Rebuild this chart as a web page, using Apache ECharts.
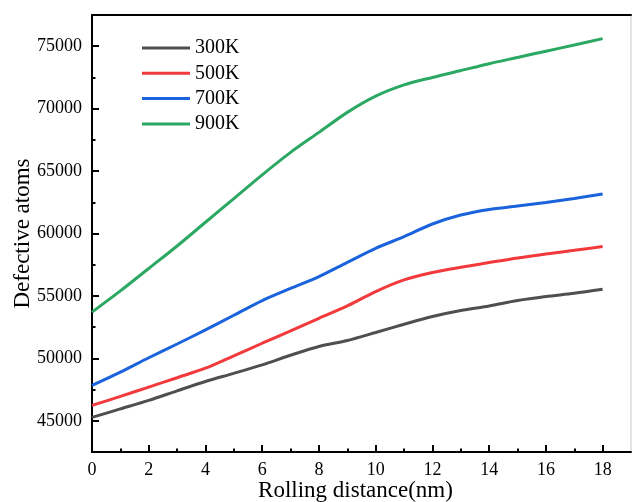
<!DOCTYPE html>
<html>
<head>
<meta charset="utf-8">
<script src="https://cdn.jsdelivr.net/npm/echarts@6/dist/echarts.min.js"></script>
<style>html,body{margin:0;padding:0;background:#fff;}#c{width:632px;height:502px;}</style>
</head>
<body>
<div id="c"></div>
<script>
var distance = [0,1,2,3,4,5,6,7,8,9,10,11,12,13,14,15,16,17,18];
var s300K = [45270,45950,46630,47400,48150,48800,49480,50250,50950,51430,52070,52730,53350,53830,54200,54630,54950,55210,55530];
var s500K = [46230,46950,47700,48450,49210,50200,51210,52200,53210,54200,55350,56280,56870,57290,57670,58040,58360,58650,58950];
var s700K = [47830,48900,50050,51150,52280,53450,54630,55600,56550,57690,58810,59750,60760,61480,61930,62200,62490,62810,63160];
var s900K = [53700,55400,57200,59000,60900,62800,64700,66500,68100,69700,71000,71900,72500,73050,73600,74100,74600,75100,75610];
var seriesNames = ['300K','500K','700K','900K'];
var xMajorTicks = [0,2,4,6,8,10,12,14,16,18];
var xMinorTicks = [1,3,5,7,9,11,13,15,17];
var yMajorTicks = [45000,50000,55000,60000,65000,70000,75000];
var yMinorTicks = [42500,47500,52500,57500,62500,67500,72500,77500];

var colors = ['#4f4f4f','#f2393c','#1a63dc','#2ba862'];
var font = "'Liberation Serif','Times New Roman',serif";
var allSeries = [s300K, s500K, s700K, s900K];

function pairs(arr){ return distance.map(function(d,i){ return [d, arr[i]]; }); }

var chart = echarts.init(document.getElementById('c'), null, {renderer:'canvas'});
chart.setOption({
  animation: false,
  backgroundColor: '#fff',
  grid: {left: 92, right: 1, top: 15, bottom: 50, show: true, borderColor: '#c8c8c8', borderWidth: 1,
         containLabel: false, outerBoundsMode: 'none'},
  legend: {
    orient: 'vertical', left: 137, top: 33, padding: 5,
    icon: 'rect', itemWidth: 48, itemHeight: 3, itemGap: 5.3,
    data: seriesNames,
    textStyle: {fontFamily: font, fontSize: 20, color: '#000'}
  },
  xAxis: [{
    type: 'value', min: 0, max: 19, position: 'bottom',
    name: 'Rolling distance(nm)', nameLocation: 'middle', nameGap: 27, nameMoveOverlap: false,
    nameTextStyle: {fontFamily: font, fontSize: 23, color: '#000', padding: [0, 12, 0, 0]},
    axisLine: {show: true, onZero: false, lineStyle: {color: '#000', width: 2}},
    axisTick: {show: true, inside: true, length: 7, customValues: xMajorTicks, lineStyle: {color: '#000', width: 2}},
    axisLabel: {show: true, customValues: xMajorTicks, margin: 9, fontFamily: font, fontSize: 18, color: '#000'},
    splitLine: {show: false}
  },{
    type: 'value', min: 0, max: 19, position: 'bottom',
    axisLine: {show: false},
    axisTick: {show: true, inside: true, length: 3.5, customValues: xMinorTicks, lineStyle: {color: '#000', width: 2}},
    axisLabel: {show: false},
    splitLine: {show: false}
  },{
    type: 'value', min: 0, max: 19, position: 'top',
    axisLine: {show: true, onZero: false, lineStyle: {color: '#000', width: 2}},
    axisTick: {show: false}, axisLabel: {show: false}, splitLine: {show: false}
  }],
  yAxis: [{
    type: 'value', min: 42500, max: 77500, position: 'left',
    name: 'Defective atoms', nameLocation: 'middle', nameGap: 58, nameMoveOverlap: false,
    nameTextStyle: {fontFamily: font, fontSize: 23, color: '#000'},
    axisLine: {show: true, onZero: false, lineStyle: {color: '#000', width: 2}},
    axisTick: {show: true, inside: true, length: 7, customValues: yMajorTicks, lineStyle: {color: '#000', width: 2}},
    axisLabel: {show: true, customValues: yMajorTicks, margin: 10, fontFamily: font, fontSize: 18, color: '#000',
                formatter: function(v){ return String(v); }},
    splitLine: {show: false}
  },{
    type: 'value', min: 42500, max: 77500, position: 'left',
    axisLine: {show: false},
    axisTick: {show: true, inside: true, length: 3.5, customValues: yMinorTicks, lineStyle: {color: '#000', width: 2}},
    axisLabel: {show: false},
    splitLine: {show: false}
  }],
  series: seriesNames.map(function(n, i){
    return {
      name: n, type: 'line', xAxisIndex: 0, yAxisIndex: 0,
      data: pairs(allSeries[i]), smooth: 0.3,
      showSymbol: false, symbol: 'none',
      lineStyle: {color: colors[i], width: 3},
      itemStyle: {color: colors[i]}
    };
  })
});
</script>
</body>
</html>
